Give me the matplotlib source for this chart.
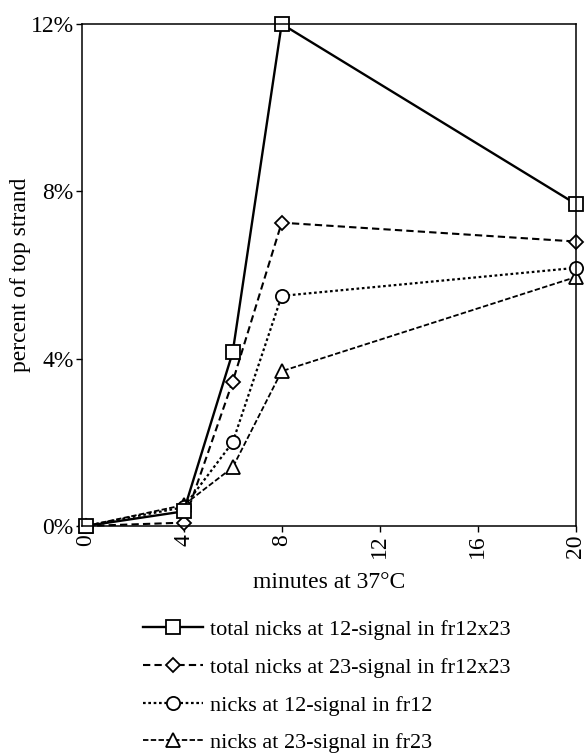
import matplotlib
matplotlib.use("Agg")
import matplotlib.pyplot as plt
from matplotlib.ticker import FuncFormatter

# minutes at 37C
minutes = [0, 4, 6, 8, 20]

# percent of top strand
total_12 = [0.0, 0.35, 4.15, 12.0, 7.7]
total_23 = [0.0, 0.08, 3.45, 7.25, 6.8]
nicks_12 = [0.0, 0.45, 2.0, 5.5, 6.17]
nicks_23 = [0.0, 0.5, 1.4, 3.7, 5.95]

labels = [
    "total nicks at 12-signal in fr12x23",
    "total nicks at 23-signal in fr12x23",
    "nicks at 12-signal in fr12",
    "nicks at 23-signal in fr23",
]
x_ticks = [0, 4, 8, 12, 16, 20]
y_ticks = [0, 4, 8, 12]

plt.rcParams["font.family"] = ["Liberation Serif", "DejaVu Serif"]
plt.rcParams["font.size"] = 16

fig = plt.figure(figsize=(5.87, 7.54), dpi=100)
ax = fig.add_axes([0.1397, 0.3024, 0.841, 0.6658])

mk = dict(markerfacecolor="white", markeredgecolor="black", markeredgewidth=1.3,
          color="black", clip_on=False)
ax.plot(minutes, nicks_23, linestyle=(0, (3, 1.3)), linewidth=1.3, marker="^", markersize=9.5, label=labels[3], **mk)
ax.plot(minutes, nicks_12, linestyle=(0, (1.2, 1.2)), linewidth=1.6, marker="o", markersize=9.5, label=labels[2], **mk)
ax.plot(minutes, total_23, linestyle=(0, (3.5, 2)), linewidth=1.5, marker="D", markersize=7.5, label=labels[1], **mk)
ax.plot(minutes, total_12, linestyle="-", linewidth=1.7, marker="s", markersize=10, label=labels[0], **mk)

ax.set_xlim(-0.15, 20)
ax.set_ylim(0, 12)
ax.set_xticks(x_ticks)
ax.set_yticks(y_ticks)
ax.yaxis.set_major_formatter(FuncFormatter(lambda v, p: f"{v:.0f}%"))
ax.tick_params(axis="x", labelrotation=90, direction="out", length=4, width=1, labelsize=17, pad=2)
ax.tick_params(axis="y", direction="out", length=4, width=1, labelsize=17, pad=2)
for s in ax.spines.values():
    s.set_linewidth(1.1)

ax.set_xlabel("minutes at 37°C", fontsize=17, labelpad=10)
ax.set_ylabel("percent of top strand", fontsize=17, labelpad=0)

handles, labs = ax.get_legend_handles_labels()
fig.legend(handles[::-1], labs[::-1], loc="upper left", bbox_to_anchor=(0.229, 0.19),
           frameon=False, fontsize=16, handlelength=2.7, handletextpad=0.28,
           labelspacing=0.77, borderaxespad=0)

fig.savefig("out.png", dpi=100)
